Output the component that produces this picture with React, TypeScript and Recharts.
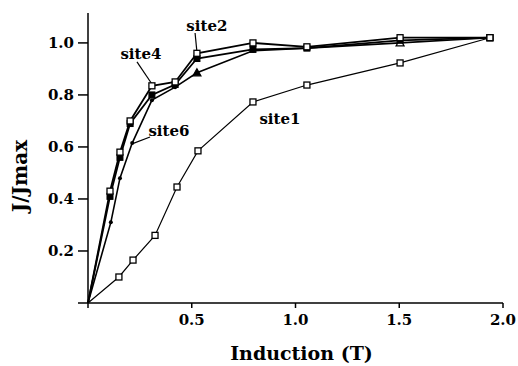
import React from 'react';
import { LineChart, Line, XAxis, YAxis, ReferenceLine, ReferenceDot } from 'recharts';

// induction values (T) for each site
const inductionUpper = [0, 0.106, 0.154, 0.203, 0.308, 0.42, 0.525, 0.795, 1.055, 1.504, 1.937];
const inductionSite6 = [0, 0.11, 0.154, 0.213, 0.308, 0.42, 0.525, 0.795, 1.055, 1.504, 1.937];
const inductionSite1 = [0, 0.149, 0.217, 0.323, 0.429, 0.53, 0.795, 1.055, 1.504, 1.937];

// J/Jmax
const site2 = [0, 0.43, 0.58, 0.7, 0.835, 0.85, 0.96, 1.0, 0.985, 1.02, 1.02];
const site4 = [0, 0.41, 0.56, 0.69, 0.8, 0.84, 0.94, 0.975, 0.98, 1.01, 1.02];
const site6 = [0, 0.31, 0.48, 0.615, 0.78, 0.83, 0.885, 0.97, 0.98, 1.0, 1.02];
const site1 = [0, 0.1, 0.165, 0.26, 0.446, 0.585, 0.773, 0.838, 0.923, 1.02];

const xTicks = [0, 0.5, 1.0, 1.5, 2.0];
const yTicks = [0, 0.2, 0.4, 0.6, 0.8, 1.0];

// annotation text anchors and leader lines, in data units
const siteLabels = ['site2', 'site4', 'site6', 'site1'];
const labelX = [0.573, 0.255, 0.39, 0.925];
const labelY = [1.046, 0.938, 0.642, 0.688];
const leaderFrom = [[0.516, 1.038], [0.236, 0.927], [0.299, 0.638]];
const leaderTo = [[0.525, 0.965], [0.308, 0.842], [0.212, 0.612]];

const toRows = (xs: number[], ys: number[]) => xs.map((x, i) => ({ x, y: ys[i] }));

const serif = '"DejaVu Serif", "Liberation Serif", serif';
const tickStyle = { fontFamily: serif, fontWeight: 700, fontSize: 15, fill: '#000' };

const OpenSquare = (props: any) => {
    const { cx, cy, index } = props;
    if (index === 0) return <g key={`os-${index}`} />;
    return <rect key={`os-${index}`} x={cx - 3} y={cy - 3} width={6} height={6} fill="#fff" stroke="#000" strokeWidth={1.3} />;
};

const FilledSquare = (props: any) => {
    const { cx, cy, index } = props;
    if (index === 0) return <g key={`fs-${index}`} />;
    return <rect key={`fs-${index}`} x={cx - 3} y={cy - 3} width={6} height={6} fill="#000" stroke="#000" />;
};

const SmallDot = (props: any) => {
    const { cx, cy, index } = props;
    if (index === 0) return <g key={`sd-${index}`} />;
    if (index === 6 || index === 9) {
        return <path key={`sd-${index}`} d={`M${cx},${cy - 4} L${cx + 4},${cy + 3} L${cx - 4},${cy + 3} Z`} fill={index === 6 ? '#000' : '#fff'} stroke="#000" strokeWidth={1.2} />;
    }
    return <circle key={`sd-${index}`} cx={cx} cy={cy} r={2} fill="#000" />;
};

const YTitle = (props: any) => {
    const vb = props.viewBox;
    const cx = vb.x + 20;
    const cy = vb.y + vb.height / 2 + 18;
    return (
        <text x={cx} y={cy} transform={`rotate(-90 ${cx} ${cy})`} textAnchor="middle" dominantBaseline="central"
            style={{ fontFamily: serif, fontWeight: 700, fontSize: 20, fill: '#000' }}>
            J/Jmax
        </text>
    );
};

const XTitle = (props: any) => {
    const vb = props.viewBox;
    return (
        <text x={vb.x + vb.width / 2 + 6} y={vb.y + 57} textAnchor="middle"
            style={{ fontFamily: serif, fontWeight: 700, fontSize: 19, fill: '#000' }}>
            Induction (T)
        </text>
    );
};

export default function App() {
    return (
        <div style={{ position: 'absolute', left: 0, top: 0, background: '#fff' }}>
            <LineChart width={518} height={366} margin={{ top: 13, right: 15, bottom: 0, left: 0 }}>
                <XAxis
                    type="number"
                    dataKey="x"
                    domain={[0, 2]}
                    ticks={xTicks}
                    tickFormatter={(v: number) => (v === 0 ? '' : v.toFixed(1))}
                    tick={tickStyle}
                    tickSize={5}
                    tickMargin={6}
                    height={63}
                    axisLine={{ stroke: '#000', strokeWidth: 1.5 }}
                    tickLine={{ stroke: '#000', strokeWidth: 1.5 }}
                    label={<XTitle />}
                />
                <YAxis
                    type="number"
                    dataKey="y"
                    domain={[0, 1.115]}
                    allowDataOverflow
                    ticks={yTicks}
                    tickFormatter={(v: number) => (v === 0 ? '' : v.toFixed(1))}
                    tick={tickStyle}
                    tickSize={10}
                    tickMargin={4}
                    width={88}
                    axisLine={{ stroke: '#000', strokeWidth: 1.5 }}
                    tickLine={{ stroke: '#000', strokeWidth: 1.5 }}
                    label={<YTitle />}
                />
                <Line data={toRows(inductionSite1, site1)} dataKey="y" stroke="#000" strokeWidth={1.2} dot={OpenSquare} isAnimationActive={false} />
                <Line data={toRows(inductionSite6, site6)} dataKey="y" stroke="#000" strokeWidth={1.6} dot={SmallDot} isAnimationActive={false} />
                <Line data={toRows(inductionUpper, site4)} dataKey="y" stroke="#000" strokeWidth={1.8} dot={FilledSquare} isAnimationActive={false} />
                <Line data={toRows(inductionUpper, site2)} dataKey="y" stroke="#000" strokeWidth={1.8} dot={OpenSquare} isAnimationActive={false} />
                {leaderFrom.map((p, i) => (
                    <ReferenceLine key={`ld-${i}`} segment={[{ x: p[0], y: p[1] }, { x: leaderTo[i][0], y: leaderTo[i][1] }]} stroke="#000" strokeWidth={1.2} />
                ))}
                {siteLabels.map((s, i) => (
                    <ReferenceDot
                        key={s}
                        x={labelX[i]}
                        y={labelY[i]}
                        r={0}
                        shape={(p: any) => (
                            <text x={p.cx} y={p.cy} textAnchor="middle" style={{ fontFamily: serif, fontWeight: 700, fontSize: 15, fill: '#000' }}>
                                {s}
                            </text>
                        )}
                    />
                ))}
            </LineChart>
        </div>
    );
}
